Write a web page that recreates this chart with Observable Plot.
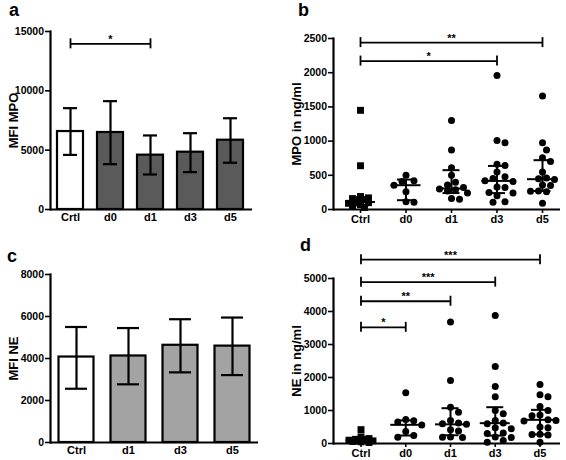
<!DOCTYPE html>
<html><head><meta charset="utf-8">
<script src="https://cdn.jsdelivr.net/npm/d3@7"></script>
<script src="https://cdn.jsdelivr.net/npm/@observablehq/plot@0.6"></script>
<style>
body{margin:0;background:#fff;}
#wrap{position:relative;width:566px;height:460px;overflow:hidden;background:#fff;}
.panel{position:absolute;}
.letter{position:absolute;font:bold 18px "Liberation Sans",Arial,sans-serif;line-height:1;color:#000;}
</style></head><body><div id="wrap"></div>
<script>
// ---------- Panel a: MFI MPO (bars, mean ± SD) ----------
const catsA = ["Crtl","d0","d1","d3","d5"];
const meanA = [6570, 6490, 4580, 4830, 5840];
const lowA  = [4600, 3820, 2950, 3150, 3940];
const highA = [8540, 9130, 6240, 6430, 7690];
const sigFromA = [0], sigToA = [2], sigYA = [13960], sigLabA = ["*"];
const ticksA = [0, 5000, 10000, 15000];

// ---------- Panel b: MPO in ng/ml (scatter) ----------
const catsB = ["Ctrl","d0","d1","d3","d5"];
const ptsB_Ctrl = [1450, 640, 190, 170, 160, 140, 120, 100, 90, 70, 50, 30];
const ptsB_d0 = [500, 420, 410, 355, 260, 115, 105];
const ptsB_d1 = [1300, 870, 610, 500, 400, 360, 320, 300, 290, 270, 240, 160, 150];
const ptsB_d3 = [1960, 1010, 975, 660, 645, 550, 480, 455, 420, 410, 330, 320, 250, 240, 200, 115, 105];
const ptsB_d5 = [1660, 975, 870, 755, 700, 550, 460, 450, 440, 360, 350, 270, 265, 260, 90];
const medB  = [110, 355, 307, 418, 443];
const lowB  = [60, 136, 240, 240, 270];
const highB = [180, 438, 575, 637, 721];
const sigFromB = [0, 0], sigToB = [4, 3], sigYB = [2440, 2170], sigLabB = ["**", "*"];
const ticksB = [0, 500, 1000, 1500, 2000, 2500];

// ---------- Panel c: MFI NE (bars) ----------
const catsC = ["Ctrl","d1","d3","d5"];
const meanC = [4070, 4120, 4630, 4590];
const lowC  = [2560, 2770, 3340, 3210];
const highC = [5500, 5450, 5870, 5950];
const ticksC = [0, 2000, 4000, 6000, 8000];

// ---------- Panel d: NE in ng/ml (scatter) ----------
const catsD = ["Ctrl","d0","d1","d3","d5"];
const ptsD_Ctrl = [420, 200, 150, 120, 100, 90, 80, 60, 50, 30];
const ptsD_d0 = [1540, 730, 690, 650, 560, 360, 240, 190];
const ptsD_d1 = [3680, 1910, 1100, 950, 700, 620, 600, 580, 420, 380, 200, 190, 180];
const ptsD_d3 = [3880, 2330, 1730, 1420, 1000, 900, 700, 620, 600, 480, 450, 320, 300, 200, 180, 90, 40];
const ptsD_d5 = [1790, 1480, 1420, 1120, 1000, 860, 840, 720, 700, 680, 500, 480, 280, 270, 260, 40];
const medD  = [100, 566, 580, 616, 717];
const lowD  = [50, 242, 250, 240, 275];
const highD = [200, 700, 1070, 1100, 1020];
const sigFromD = [0, 0, 0, 0], sigToD = [4, 3, 2, 1], sigYD = [5570, 4890, 4310, 3520], sigLabD = ["***", "***", "**", "*"];
const ticksD = [0, 1000, 2000, 3000, 4000, 5000];

const FONT = '"Liberation Sans", Arial, sans-serif';

function swarm(vals, ypix, minD, maxOff) {
  // deterministic beeswarm limited to +-maxOff px; returns pixel x offsets
  const order = d3.range(vals.length).sort((a, b) => vals[b] - vals[a]);
  const placed = [];
  const off = new Array(vals.length).fill(0);
  const cand = [0];
  for (let k = 1; k * 4 <= maxOff; k++) { cand.push(k * 4, -k * 4); }
  for (const i of order) {
    const py = ypix(vals[i]);
    let best = 0, bestD = -1;
    for (const c of cand) {
      const dmin = placed.length ? d3.min(placed, p => Math.hypot(p.x - c, p.y - py)) : Infinity;
      if (dmin >= minD) { best = c; bestD = dmin; break; }
      if (dmin > bestD) { bestD = dmin; best = c; }
    }
    off[i] = best; placed.push({x: best, y: py});
  }
  return off;
}

function panel(cfg) {
  const n = cfg.cats.length;
  const idx = d3.range(n);
  const step = (cfg.xr[1] - cfg.xr[0]) / (n - 1);
  const yPix = d3.scaleLinear(cfg.yd, [cfg.h - cfg.mb, cfg.mt]);
  const perPx = (cfg.yd[1] - cfg.yd[0]) / (cfg.h - cfg.mb - cfg.mt);
  const marks = [];

  if (cfg.type === "bar") {
    const hb = cfg.barW / 2 / step, hc = cfg.capW / 2 / step;
    marks.push(Plot.rectY(idx.filter(i => i === 0), {x1: i => i - hb, x2: i => i + hb, y1: 0, y2: i => cfg.mean[i], fill: "white", stroke: "black", strokeWidth: 2.2}));
    marks.push(Plot.rectY(idx.filter(i => i > 0), {x1: i => i - hb, x2: i => i + hb, y1: 0, y2: i => cfg.mean[i], fill: cfg.fill, stroke: "black", strokeWidth: 2.2}));
    marks.push(Plot.ruleX(idx, {x: i => i, y1: i => cfg.low[i], y2: i => cfg.high[i], stroke: "black", strokeWidth: 2.2}));
    marks.push(Plot.ruleY(idx, {x1: i => i - hc, x2: i => i + hc, y: i => cfg.low[i], stroke: "black", strokeWidth: 2.2}));
    marks.push(Plot.ruleY(idx, {x1: i => i - hc, x2: i => i + hc, y: i => cfg.high[i], stroke: "black", strokeWidth: 2.2}));
  } else {
    const r = 3.5;
    const pts = [];
    cfg.pts.forEach((vals, g) => {
      const off = g === 0 ? swarm(vals, yPix, 4.5, 12) : swarm(vals, yPix, 7.2, 16);
      vals.forEach((v, j) => pts.push({g, v, x: g + off[j] / step}));
    });
    marks.push(Plot.dot(pts.filter(p => p.g === 0), {x: "x", y: "v", symbol: "square", r: 3.9, fill: "black", stroke: "none"}));
    marks.push(Plot.dot(pts.filter(p => p.g > 0), {x: "x", y: "v", r: r, fill: "black", stroke: "none"}));
    const hm = 15 / step, hc = 8.5 / step;
    marks.push(Plot.ruleY(idx, {x1: i => i - hm, x2: i => i + hm, y: i => cfg.med[i], stroke: "black", strokeWidth: 2}));
    marks.push(Plot.ruleX(idx, {x: i => i, y1: i => cfg.low[i], y2: i => cfg.high[i], stroke: "black", strokeWidth: 2}));
    marks.push(Plot.ruleY(idx, {x1: i => i - hc, x2: i => i + hc, y: i => cfg.low[i], stroke: "black", strokeWidth: 2}));
    marks.push(Plot.ruleY(idx, {x1: i => i - hc, x2: i => i + hc, y: i => cfg.high[i], stroke: "black", strokeWidth: 2}));
  }

  // significance brackets
  if (cfg.sigFrom) {
    const si = d3.range(cfg.sigFrom.length);
    const t = 5 * perPx;
    marks.push(Plot.ruleY(si, {x1: i => cfg.sigFrom[i], x2: i => cfg.sigTo[i], y: i => cfg.sigY[i], stroke: "black", strokeWidth: 1.8}));
    marks.push(Plot.ruleX(si, {x: i => cfg.sigFrom[i], y1: i => cfg.sigY[i] - t, y2: i => cfg.sigY[i] + t, stroke: "black", strokeWidth: 1.8}));
    marks.push(Plot.ruleX(si, {x: i => cfg.sigTo[i], y1: i => cfg.sigY[i] - t, y2: i => cfg.sigY[i] + t, stroke: "black", strokeWidth: 1.8}));
    marks.push(Plot.text(si, {x: i => (cfg.sigFrom[i] + cfg.sigTo[i]) / 2, y: i => cfg.sigY[i], text: i => cfg.sigLab[i], lineAnchor: "bottom", dy: -1, fontSize: 11, fontWeight: "bold", fill: "black"}));
  }

  // axes
  marks.push(Plot.frame({anchor: "left", stroke: "black", strokeWidth: 2.2}));
  marks.push(Plot.ruleY([0], {stroke: "black", strokeWidth: 2.2}));
  marks.push(Plot.axisY({ticks: cfg.yt, tickSize: 5, tickPadding: 1.5, tickFormat: d => String(d), label: null, fontSize: 10.5, fontWeight: "bold", strokeWidth: 1.6, anchor: "left"}));
  marks.push(Plot.axisX({ticks: idx, tickSize: cfg.xTick, tickPadding: cfg.xTick ? 1.5 : 3.5, tickFormat: i => cfg.cats[i], label: null, fontSize: 11, fontWeight: "bold", strokeWidth: 1.6, anchor: "bottom"}));
  marks.push(Plot.text([cfg.label], {text: d => d, frameAnchor: "left", textAnchor: "middle", lineAnchor: "middle", rotate: -90, dx: -37, fontSize: 13, fontWeight: "bold", fill: "black"}));

  return Plot.plot({
    width: cfg.w, height: cfg.h,
    marginLeft: cfg.ml, marginRight: cfg.mr, marginTop: cfg.mt, marginBottom: cfg.mb,
    x: {type: "linear", domain: [0, n - 1], range: cfg.xr},
    y: {domain: cfg.yd},
    style: {fontFamily: FONT, color: "black", background: "white", overflow: "visible"},
    marks
  });
}

const panels = [
  {left: 0, top: 0, letter: "a", lx: 9, ly: 1, type: "bar", cats: catsA, mean: meanA, low: lowA, high: highA, fill: "#5a5a5a",
   sigFrom: sigFromA, sigTo: sigToA, sigY: sigYA, sigLab: sigLabA, yt: ticksA, yd: [0, 15000],
   w: 283, h: 230, ml: 50, mr: 31, mt: 31, mb: 21, xr: [70, 230], barW: 26, capW: 14, xTick: 0, label: "MFI MPO"},
  {left: 283, top: 0, letter: "b", lx: 15, ly: 1, type: "scatter", cats: catsB, pts: [ptsB_Ctrl, ptsB_d0, ptsB_d1, ptsB_d3, ptsB_d5],
   med: medB, low: lowB, high: highB, sigFrom: sigFromB, sigTo: sigToB, sigY: sigYB, sigLab: sigLabB, yt: ticksB, yd: [0, 2500],
   w: 283, h: 230, ml: 50, mr: 6, mt: 38, mb: 21, xr: [77, 259], xTick: 4, label: "MPO in ng/ml"},
  {left: 0, top: 230, letter: "c", lx: 7, ly: 17, type: "bar", cats: catsC, mean: meanC, low: lowC, high: highC, fill: "#a3a3a3",
   yt: ticksC, yd: [0, 8000],
   w: 283, h: 230, ml: 50, mr: 25, mt: 44, mb: 18, xr: [76, 232], barW: 35, capW: 22, xTick: 0, label: "MFI NE"},
  {left: 283, top: 230, letter: "d", lx: 17, ly: 6, type: "scatter", cats: catsD, pts: [ptsD_Ctrl, ptsD_d0, ptsD_d1, ptsD_d3, ptsD_d5],
   med: medD, low: lowD, high: highD, sigFrom: sigFromD, sigTo: sigToD, sigY: sigYD, sigLab: sigLabD, yt: ticksD, yd: [0, 5000],
   w: 283, h: 230, ml: 50, mr: 6, mt: 48, mb: 17, xr: [77.5, 256.5], xTick: 4, label: "NE in ng/ml"}
];

const wrap = document.getElementById("wrap");
for (const p of panels) {
  const div = document.createElement("div");
  div.className = "panel";
  div.style.left = p.left + "px"; div.style.top = p.top + "px";
  div.appendChild(panel(p));
  wrap.appendChild(div);
  const L = document.createElement("div");
  L.className = "letter";
  L.textContent = p.letter;
  L.style.left = (p.left + p.lx) + "px"; L.style.top = (p.top + p.ly) + "px";
  wrap.appendChild(L);
}
</script>
</body></html>
